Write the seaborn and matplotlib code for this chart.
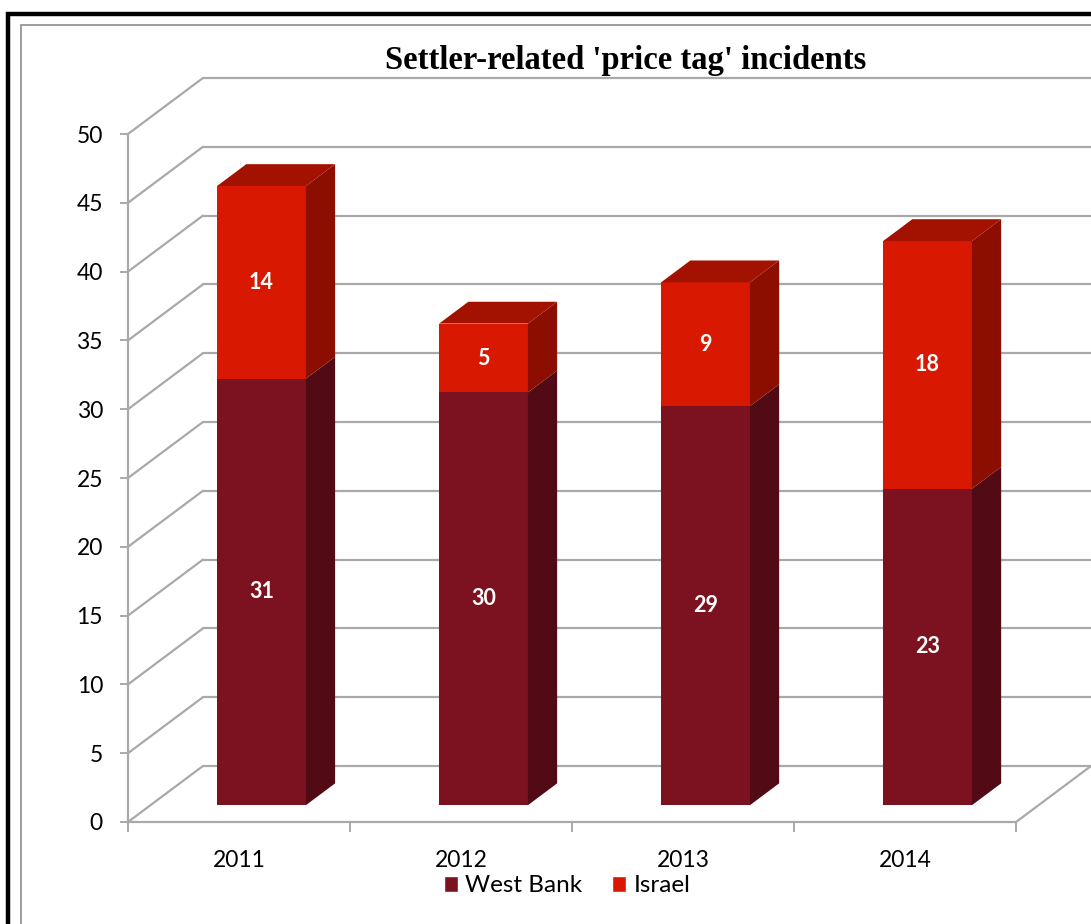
import matplotlib
matplotlib.use("Agg")
import matplotlib.pyplot as plt
from matplotlib.patches import Polygon, Rectangle, Patch
import pandas as pd
import seaborn as sns

# data
years = ["2011", "2012", "2013", "2014"]
west_bank = [31, 30, 29, 23]
israel = [14, 5, 9, 18]
series_names = ["West Bank", "Israel"]
y_ticks = list(range(0, 55, 5))
title = "Settler-related 'price tag' incidents"

# front, side, top colours
WB_COLORS = ("#7c1220", "#520a14", "#6a0e1a")
IL_COLORS = ("#d81800", "#8c0e00", "#a31200")
GRID = "#a9a9a9"

# fake 3d: depth vector in data units (x in categories, y in values)
DEPTH_X, DEPTH_Y = 0.3375, 4.07
FRONT, BACK = 0.30, 0.69
BAR_W = 0.4


def draw_walls(ax):
    x_left, x_right = -0.5, len(years) - 0.5
    for v in y_ticks:
        ax.plot([x_left, x_left + DEPTH_X], [v, v + DEPTH_Y],
                color=GRID, lw=1.6, zorder=1, clip_on=False)
        ax.plot([x_left + DEPTH_X, x_right + DEPTH_X], [v + DEPTH_Y] * 2,
                color=GRID, lw=1.6, zorder=1, clip_on=False)
    ax.plot([x_right, x_right + DEPTH_X], [0, DEPTH_Y],
            color=GRID, lw=1.6, zorder=1, clip_on=False)


def draw_bars(ax, df):
    sns.barplot(data=df, x="year", y="total", color=IL_COLORS[0], width=BAR_W,
                errorbar=None, saturation=1, linewidth=0, ax=ax, zorder=3)
    sns.barplot(data=df, x="year", y="West Bank", color=WB_COLORS[0], width=BAR_W,
                errorbar=None, saturation=1, linewidth=0, ax=ax, zorder=3)

    lift_x, lift_y = FRONT * DEPTH_X, FRONT * DEPTH_Y
    for p in ax.patches:
        p.set_x(p.get_x() + lift_x)
        p.set_y(p.get_y() + lift_y)

    ddx, ddy = (BACK - FRONT) * DEPTH_X, (BACK - FRONT) * DEPTH_Y
    for i, (wb, il) in enumerate(zip(west_bank, israel)):
        x0 = i - BAR_W / 2 + lift_x
        x1 = x0 + BAR_W
        for lo, hi, cols in [(0, wb, WB_COLORS), (wb, wb + il, IL_COLORS)]:
            b, t = lo + lift_y, hi + lift_y
            side = [(x1, b), (x1 + ddx, b + ddy), (x1 + ddx, t + ddy), (x1, t)]
            ax.add_patch(Polygon(side, closed=True, fc=cols[1], lw=0, zorder=3))
        top = wb + il + lift_y
        ax.add_patch(Polygon([(x0, top), (x0 + ddx, top + ddy), (x1 + ddx, top + ddy), (x1, top)],
                             closed=True, fc=IL_COLORS[2], lw=0, zorder=3))

        ax.text(i + lift_x, wb / 2 + lift_y, str(wb), ha="center", va="center",
                color="white", fontweight="bold", fontsize=15.5, zorder=5)
        ax.text(i + lift_x, wb + il / 2 + lift_y, str(il), ha="center", va="center",
                color="white", fontweight="bold", fontsize=15.5, zorder=5)


def main():
    sns.set_theme(style="white")
    plt.rcParams["font.family"] = ["Lato", "DejaVu Sans"]
    plt.rcParams["text.color"] = "black"

    df = pd.DataFrame({"year": years, "West Bank": west_bank, "Israel": israel})
    df["total"] = df["West Bank"] + df["Israel"]

    fig = plt.figure(figsize=(10.91, 9.24), dpi=100)
    ax = fig.add_axes([128 / 1091, 102 / 924, 1 - 128 / 1091, (822 - 78) / 924])
    ax.patch.set_visible(False)

    draw_walls(ax)
    draw_bars(ax, df)

    ax.set_xlim(-0.5, len(years) - 0.5 + DEPTH_X)
    ax.set_ylim(0, 50 + DEPTH_Y)
    ax.set_xlabel("")
    ax.set_ylabel("")

    for side in ["top", "right"]:
        ax.spines[side].set_visible(False)
    ax.spines["left"].set_bounds(0, 50)
    ax.spines["bottom"].set_bounds(-0.5, len(years) - 0.5)
    for side in ["left", "bottom"]:
        ax.spines[side].set_color(GRID)
        ax.spines[side].set_linewidth(1.6)

    ax.set_yticks(y_ticks)
    ax.tick_params(axis="y", left=True, length=6, width=1.4, color=GRID,
                   labelsize=16.5, labelcolor="black", pad=12)

    ax.set_xticks([i - 0.5 for i in range(len(years) + 1)])
    ax.set_xticklabels([])
    ax.set_xticks(range(len(years)), minor=True)
    ax.set_xticklabels(years, minor=True)
    ax.tick_params(axis="x", which="major", bottom=True, length=7, width=1.4, color=GRID)
    ax.tick_params(axis="x", which="minor", bottom=True, length=0,
                   labelsize=16.5, labelcolor="black", pad=20)

    handles = [Patch(fc=WB_COLORS[0]), Patch(fc=IL_COLORS[0])]
    fig.legend(handles, series_names, loc="center", bbox_to_anchor=(567 / 1091, 38 / 924),
               ncol=2, frameon=False, fontsize=17.5, handlelength=0.6, handleheight=0.6,
               columnspacing=1.2, handletextpad=0.3, labelcolor="black")

    fig.text(626 / 1091, 1 - 60 / 924, title, ha="center", va="center", color="black",
             family="Liberation Serif", fontweight="bold", fontsize=23.5)

    fig.add_artist(Rectangle((8 / 1091, -0.1), 1.2, (924 - 14) / 924 + 0.1,
                             transform=fig.transFigure, fill=False, ec="black", lw=3.2))
    fig.add_artist(Rectangle((21 / 1091, -0.1), 1.2, (924 - 25) / 924 + 0.1,
                             transform=fig.transFigure, fill=False, ec="#8c8c8c", lw=1.2))

    fig.savefig("out.png", dpi=100)


if __name__ == "__main__":
    main()
